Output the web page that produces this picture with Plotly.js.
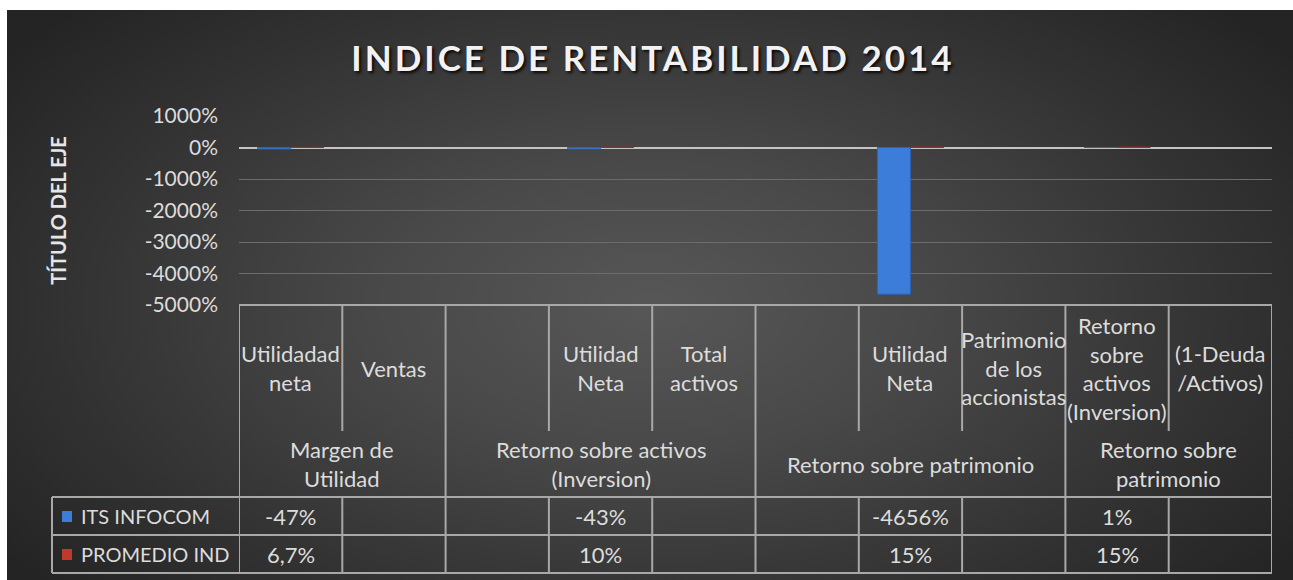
<!DOCTYPE html>
<html>
<head>
<meta charset="utf-8">
<script src="https://cdn.plot.ly/plotly-3.0.1.min.js"></script>
<style>
  html, body { margin: 0; padding: 0; background: #ffffff; }
  #wrap { position: relative; width: 1293px; height: 580px; overflow: hidden; background: #ffffff; }
  #bg { position: absolute; left: 7px; top: 10px; right: 0; bottom: 0;
        background: radial-gradient(ellipse 62% 75% at 50% 52%, #575757 0%, #484848 35%, #343434 70%, #242424 100%); }
  #chart { position: absolute; left: 0; top: 0; width: 1293px; height: 580px; }
  #chart .gtitle { letter-spacing: 3px; }
</style>
</head>
<body>
<div id="wrap"><div id="bg"></div><div id="chart"></div></div>
<script>
// ---- data ----
const subCategories = ['Utilidadad<br>neta', 'Ventas', '', 'Utilidad<br>Neta', 'Total<br>activos',
                       '', 'Utilidad<br>Neta', 'Patrimonio<br>de los<br>accionistas',
                       'Retorno<br>sobre<br>activos<br>(Inversion)', '(1-Deuda<br>/Activos)'];
const groupLabels = ['Margen de<br>Utilidad', 'Retorno sobre activos<br>(Inversion)',
                     'Retorno sobre patrimonio', 'Retorno sobre<br>patrimonio'];
const groupFirst = [0, 2, 5, 8];
const groupLast  = [1, 4, 7, 9];
const seriesNames = ['ITS INFOCOM', 'PROMEDIO IND'];
const itsInfocom  = [-47, null, null, -43, null, null, -4656, null, 1, null];
const promedioInd = [6.7, null, null, 10, null, null, 15, null, 15, null];
const yTickVals = [1000, 0, -1000, -2000, -3000, -4000, -5000];
const yTickText = yTickVals.map(v => v + '%');

// ---- layout helpers (pixel geometry of the frame) ----
const W = 1293, H = 580;
const PL = 239, PR = 1272, PT = 116, PB = 305;
const px2x = p => (p - PL) / (PR - PL);
const py2y = p => (PB - p) / (PB - PT);
const xIdx = subCategories.map((_, i) => i);
const fmt = v => (v === null ? '' : String(v).replace('.', ',') + '%');

const TXT = '#dcdcdc';
const FONT = 'Lato, "Open Sans", sans-serif';
const LINE = '#a8a8a8';
const BLUE = '#3b7dd8', RED = '#c0392b';
const TS = 22;

const traces = [
  { type: 'bar', name: seriesNames[0], x: xIdx, y: itsInfocom,
    marker: { color: BLUE, line: { color: '#2c64b4', width: 1 } }, hoverinfo: 'skip' },
  { type: 'bar', name: seriesNames[1], x: xIdx, y: promedioInd,
    marker: { color: RED, line: { color: '#9b2a20', width: 1 } }, hoverinfo: 'skip' }
];

const shapes = [];
const annotations = [];
const hline = (x0, x1, ref, y) => shapes.push({ type: 'line', xref: ref, yref: 'paper',
  x0: x0, x1: x1, y0: py2y(y), y1: py2y(y), line: { color: LINE, width: 2 } });
const vline = (x, ref, y0, y1) => shapes.push({ type: 'line', xref: ref, yref: 'paper',
  x0: x, x1: x, y0: py2y(y0), y1: py2y(y1), line: { color: LINE, width: 2 } });

// table horizontal rules
hline(-0.5, subCategories.length - 0.5, 'x', PB);
[497, 535, 573].forEach(y => hline(px2x(52), 1, 'paper', y));
vline(px2x(52), 'paper', 497, 573);
// column boundaries
const groupBounds = new Set(groupFirst.map(i => i - 0.5).concat([groupLast[groupLast.length - 1] + 0.5]));
for (let i = 0; i <= subCategories.length; i++) {
  const b = i - 0.5;
  if (groupBounds.has(b)) { vline(b, 'x', PB, 573); }
  else { vline(b, 'x', PB, 431); vline(b, 'x', 497, 573); }
}

// sub-category labels
subCategories.forEach((t, i) => {
  if (!t) return;
  annotations.push({ x: i, xref: 'x', y: py2y(368), yref: 'paper', yanchor: 'middle', xanchor: 'center',
    text: t, showarrow: false, align: 'center', font: { family: FONT, size: TS, color: TXT } });
});
// group labels
groupLabels.forEach((t, g) => {
  annotations.push({ x: (groupFirst[g] + groupLast[g]) / 2, xref: 'x', y: py2y(464), yref: 'paper',
    yanchor: 'middle', xanchor: 'center', text: t, showarrow: false, align: 'center',
    font: { family: FONT, size: TS, color: TXT } });
});
// data rows
const rowY = [516, 554];
[itsInfocom, promedioInd].forEach((vals, r) => {
  vals.forEach((v, i) => {
    if (v === null) return;
    annotations.push({ x: i, xref: 'x', y: py2y(rowY[r]), yref: 'paper', yanchor: 'middle',
      xanchor: 'center', text: fmt(v), showarrow: false, font: { family: FONT, size: TS, color: TXT } });
  });
  annotations.push({ x: px2x(79), xref: 'paper', y: py2y(rowY[r]), yref: 'paper', yanchor: 'middle',
    xanchor: 'left', text: seriesNames[r], showarrow: false, font: { family: FONT, size: 20, color: TXT } });
  const c = r === 0 ? BLUE : RED;
  shapes.push({ type: 'rect', xref: 'paper', yref: 'paper', x0: px2x(62), x1: px2x(72),
    y0: py2y(rowY[r] + 6), y1: py2y(rowY[r] - 5), fillcolor: c, line: { width: 0 } });
});

const layout = {
  width: W, height: H,
  margin: { l: PL, r: W - PR, t: PT, b: H - PB, pad: 0 },
  paper_bgcolor: 'rgba(0,0,0,0)', plot_bgcolor: 'rgba(0,0,0,0)',
  showlegend: false,
  barmode: 'group', bargap: 0.36, bargroupgap: 0,
  title: { text: 'INDICE DE RENTABILIDAD 2014', x: 0.505, xanchor: 'center', y: 1 - 59 / H, yanchor: 'middle',
    font: { family: FONT, size: 35, weight: 700, color: '#f2f2f2', shadow: '2px 2px 3px rgba(0,0,0,0.85)' } },
  xaxis: { range: [-0.5, subCategories.length - 0.5], showticklabels: false, showgrid: false,
    zeroline: false, showline: false, fixedrange: true },
  yaxis: { range: [-5000, 1000], tickmode: 'array', tickvals: yTickVals, ticktext: yTickText,
    showgrid: true, gridcolor: '#6c6c6c', gridwidth: 1,
    zeroline: true, zerolinecolor: '#c4c4c4', zerolinewidth: 2,
    showline: false, ticks: '', ticklabelstandoff: 20,
    tickfont: { family: FONT, size: 21, color: TXT },
    title: { text: 'TÍTULO DEL EJE', standoff: 72, font: { family: FONT, size: 20, weight: 700, color: '#e6e6e6' } },
    fixedrange: true },
  shapes: shapes,
  annotations: annotations
};

Plotly.newPlot('chart', traces, layout, { displayModeBar: false, staticPlot: true });
</script>
</body>
</html>
